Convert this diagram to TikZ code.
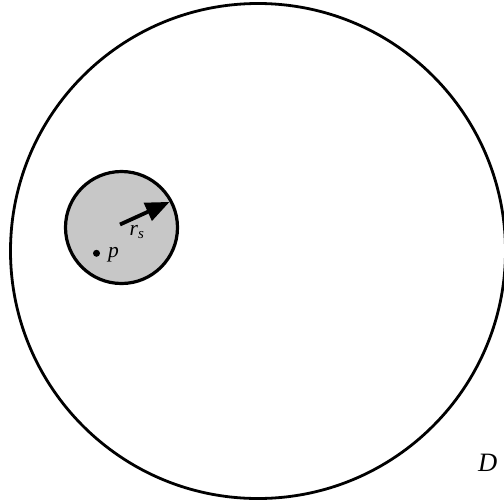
\documentclass[tikz,border=0pt]{standalone}
\usepackage{fontspec}
\setmainfont{Liberation Serif}
\usetikzlibrary{arrows.meta}
\begin{document}
\begin{tikzpicture}[x=1pt,y=-1pt,
  region/.style={circle, draw, line width=2.8pt, inner sep=0pt},
  lbl/.style={font=\fontsize{21.5}{25}\selectfont\itshape, inner sep=0pt}]
\useasboundingbox (0,0) rectangle (504,504);
\node[region, minimum size=495pt] (Dom) at (258,251) {};
\node[region, line width=3.2pt, fill=black!22, minimum size=112pt] (S) at (121.5,227.5) {};
\coordinate (C) at (120,224.5);
\coordinate (T) at (169.6,201.9);
\draw[line width=3.8pt, -{Triangle[length=24pt,width=19pt]}] (C) -- (T);
\node[lbl, anchor=base west] (rs) at (129.5,235.5) {r\textsubscript{\fontsize{15}{18}\selectfont s}};
\node[circle, fill=black, inner sep=0pt, minimum size=7pt] (p) at (96.5,253.3) {};
\node[lbl, anchor=base west] (plbl) at (108,257.5) {p};
\node[lbl, font=\fontsize{26.5}{30}\selectfont\itshape, anchor=base west] (Dl) at (478,471.7) {D};
\end{tikzpicture}
\end{document}
